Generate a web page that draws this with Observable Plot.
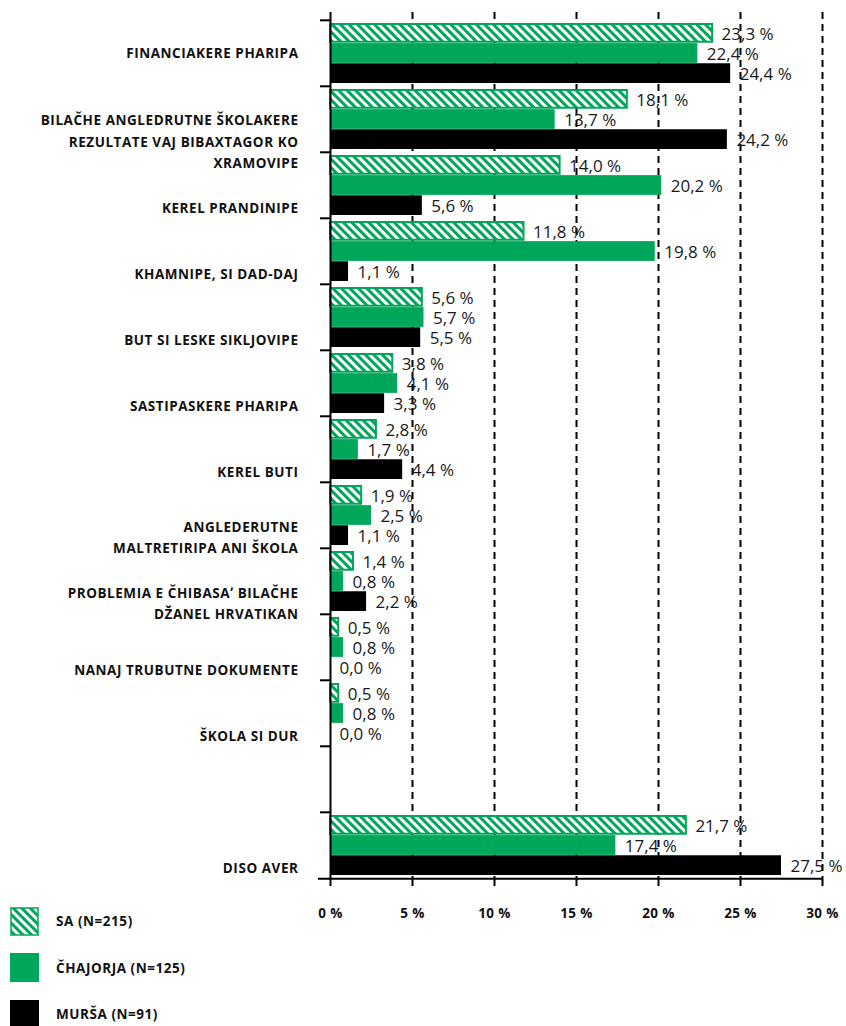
<!DOCTYPE html>
<html>
<head>
<meta charset="utf-8">
<script src="https://cdn.jsdelivr.net/npm/d3@7"></script>
<script src="https://cdn.jsdelivr.net/npm/@observablehq/plot@0.6"></script>
<style>
  html, body { margin: 0; padding: 0; background: #fff; }
  #wrap { position: relative; width: 846px; height: 1026px; font-family: "Open Sans", sans-serif; }
  .chart g[aria-label="y-axis tick label"] text { letter-spacing: 0.55px; }
  .chart g[aria-label="x-axis tick label"] text { letter-spacing: 0.4px; }
  #legend { position: absolute; left: 10px; top: 907px; }
  .item { display: flex; align-items: center; height: 28px; margin-bottom: 18.5px; }
  .item svg { flex: none; }
  .item span { margin-left: 17px; font-weight: 700; font-size: 13.5px; letter-spacing: 0.55px; color: #111; }
</style>
</head>
<body>
<div id="wrap"></div>
<script>
const categories = [
  "FINANCIAKERE PHARIPA",
  "BILAČHE ANGLEDRUTNE ŠKOLAKERE\nREZULTATE VAJ BIBAXTAGOR KO\nXRAMOVIPE",
  "KEREL PRANDINIPE",
  "KHAMNIPE, SI DAD-DAJ",
  "BUT SI LESKE SIKLJOVIPE",
  "SASTIPASKERE PHARIPA",
  "KEREL BUTI",
  "ANGLEDERUTNE\nMALTRETIRIPA ANI ŠKOLA",
  "PROBLEMIA E ČHIBASAʼ BILAČHE\nDŽANEL HRVATIKAN",
  "NANAJ TRUBUTNE DOKUMENTE",
  "ŠKOLA SI DUR",
  " ",
  "DISO AVER"
];
const seriesNames = ["SA (N=215)", "ČHAJORJA (N=125)", "MURŠA (N=91)"];
const saValues       = [23.3, 18.1, 14.0, 11.8, 5.6, 3.8, 2.8, 1.9, 1.4, 0.5, 0.5, null, 21.7];
const chajorjaValues = [22.4, 13.7, 20.2, 19.8, 5.7, 4.1, 1.7, 2.5, 0.8, 0.8, 0.8, null, 17.4];
const mursaValues    = [24.4, 24.2, 5.6, 1.1, 5.5, 3.3, 4.4, 1.1, 2.2, 0.0, 0.0, null, 27.5];
const xTicks = [0, 5, 10, 15, 20, 25, 30];

const GREEN = "#00a65a";
const seriesValues = [saValues, chajorjaValues, mursaValues];
const rows = [];
seriesValues.forEach((vals, s) => {
  vals.forEach((v, i) => {
    if (v != null) rows.push({category: categories[i], series: seriesNames[s], value: v});
  });
});

const W = 846, H = 940, mTop = 12, inTop = 5, mBottom = 60, mLeft = 330, mRight = 24;
const bw = (H - mBottom - mTop - inTop) / categories.length;
const pad = 3;
const sub = (bw - 2 * pad) / 3;
const fmt = v => v.toFixed(1).replace(".", ",") + " %";

const styles = [
  {fill: "url(#hatchSA)", stroke: GREEN, strokeWidth: 2},
  {fill: GREEN},
  {fill: "#000"}
];

const barMarks = seriesNames.map((name, s) => Plot.barX(rows.filter(d => d.series === name), {
  x: "value", y: "category",
  insetTop: pad + s * sub + (s === 0 ? 1 : 0),
  insetBottom: bw - pad - (s + 1) * sub + (s === 0 ? 1 : 0),
  ...styles[s]
}));

const labelMarks = seriesNames.map((name, s) => Plot.text(rows.filter(d => d.series === name), {
  x: "value", y: "category", text: d => fmt(d.value),
  textAnchor: "start", dx: 9, dy: (pad + (s + 0.5) * sub) - bw / 2 + 1,
  fontSize: 17, fill: "#1a1a1a"
}));

const chart = Plot.plot({
  width: W, height: H,
  marginTop: mTop, marginBottom: mBottom, marginLeft: mLeft, marginRight: mRight,
  insetTop: inTop,
  className: "chart",
  style: {fontFamily: "Open Sans, sans-serif", background: "#fff", overflow: "visible"},
  x: {domain: [0, 30]},
  y: {domain: categories, padding: 0},
  marks: [
    Plot.ruleX(xTicks.filter(t => t > 0), {stroke: "#000", strokeWidth: 2, strokeDasharray: "7,5"}),
    ...barMarks,
    Plot.ruleX([0], {stroke: "#000", strokeWidth: 2}),
    Plot.ruleY([categories[categories.length - 1]], {dy: bw / 2, stroke: "#000", strokeWidth: 2, insetLeft: -12}),
    Plot.axisY({tickSize: 10, tickFormat: () => "", dy: -bw / 2, strokeWidth: 2, label: null}),
    Plot.axisY({ticks: categories.slice(0, 1), tickSize: 0, tickPadding: 32, label: null,
      fontSize: 13.5, fontWeight: 700, fill: "#111"}),
    Plot.axisY({ticks: categories.slice(1), tickSize: 0, tickPadding: 32, dy: 20, label: null,
      fontSize: 13.5, fontWeight: 700, fill: "#111", lineHeight: 1.62}),
    Plot.axisX({ticks: xTicks, tickFormat: d => d + " %", tickSize: 6, tickPadding: 22, strokeWidth: 2,
      label: null, fontSize: 13.5, fontWeight: 700, fill: "#111"}),
    ...labelMarks
  ]
});

const ns = "http://www.w3.org/2000/svg";
function addPattern(svg, id) {
  const defs = document.createElementNS(ns, "defs");
  defs.innerHTML = `<pattern id="${id}" patternUnits="userSpaceOnUse" width="6" height="6" patternTransform="rotate(-45)">
      <rect width="6" height="6" fill="#fff"/><rect width="3" height="6" fill="${GREEN}"/></pattern>`;
  svg.insertBefore(defs, svg.firstChild);
}
addPattern(chart, "hatchSA");

const wrap = document.getElementById("wrap");
wrap.appendChild(chart);

const legend = document.createElement("div");
legend.id = "legend";
seriesNames.forEach((name, s) => {
  const item = document.createElement("div");
  item.className = "item";
  let sw;
  if (s === 0) {
    sw = `<svg width="29" height="29"><defs><pattern id="hatchLeg" patternUnits="userSpaceOnUse" width="6" height="6" patternTransform="rotate(-45)"><rect width="6" height="6" fill="#fff"/><rect width="3" height="6" fill="${GREEN}"/></pattern></defs><rect x="1" y="1" width="27" height="27" fill="url(#hatchLeg)" stroke="${GREEN}" stroke-width="2" stroke-opacity="0.75"/></svg>`;
  } else {
    sw = `<svg width="29" height="29"><rect x="0" y="0" width="29" height="29" fill="${s === 1 ? GREEN : "#000"}"/></svg>`;
  }
  item.innerHTML = sw + `<span>${name}</span>`;
  legend.appendChild(item);
});
wrap.appendChild(legend);
</script>
</body>
</html>
